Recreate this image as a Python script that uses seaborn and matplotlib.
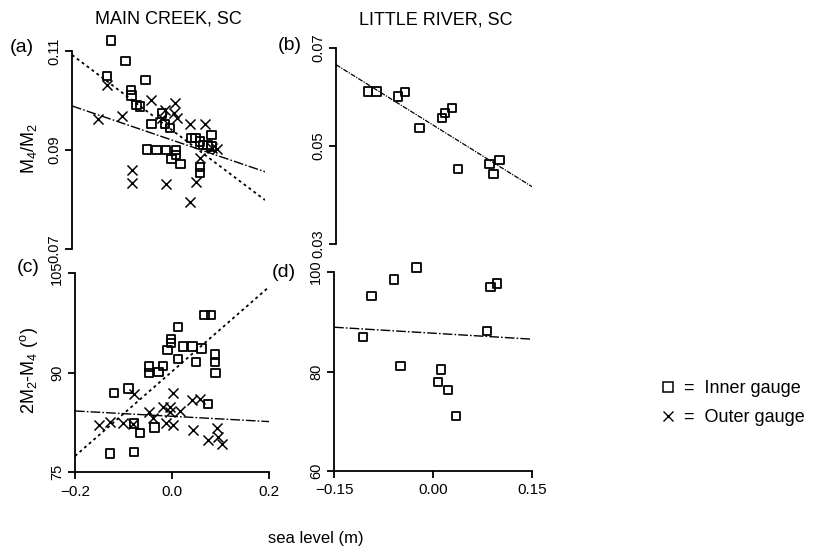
import matplotlib
matplotlib.use("Agg")
import matplotlib.pyplot as plt
from matplotlib.lines import Line2D
import numpy as np
import pandas as pd
import seaborn as sns

# ---------------------------------------------------------------------------
# Main Creek, SC : M4/M2 amplitude ratio vs. sea level
mc_inner_sl_ratio = [-0.119, -0.089, -0.128, -0.048, -0.078, -0.077, -0.066, -0.059,
                     -0.035, -0.014, -0.007, 0.003, -0.045, -0.025, -0.005, 0.015,
                     0.015, 0.006, 0.025, 0.048, 0.065, 0.089, 0.071, 0.089,
                     0.065, 0.065, 0.056, 0.081]
mc_inner_ratio = [0.1121, 0.1080, 0.1050, 0.1041, 0.1021, 0.1010, 0.0991, 0.0988,
                  0.0952, 0.0974, 0.0952, 0.0944, 0.0901, 0.0900, 0.0900, 0.0900,
                  0.0890, 0.0882, 0.0872, 0.0924, 0.0917, 0.0930, 0.0910, 0.0907,
                  0.0866, 0.0853, 0.0924, 0.0910]
mc_outer_sl_ratio = [-0.147, -0.128, -0.097, -0.075, -0.075, -0.036, -0.014, -0.007,
                     0.013, 0.017, -0.005, 0.044, 0.076, 0.100, 0.065, 0.058,
                     0.044, 0.011, 0.091]
mc_outer_ratio = [0.0962, 0.1031, 0.0969, 0.0860, 0.0833, 0.1001, 0.0964, 0.0981,
                  0.0994, 0.0964, 0.0831, 0.0953, 0.0953, 0.0903, 0.0883, 0.0836,
                  0.0794, 0.0975, 0.0905]

# Main Creek, SC : 2M2-M4 relative phase vs. sea level
mc_inner_sl_phase = [-0.128, -0.078, -0.119, -0.090, -0.078, -0.066, -0.036, -0.048,
                     -0.048, -0.028, -0.018, -0.009, -0.002, -0.002, 0.012, 0.012,
                     0.022, 0.042, 0.050, 0.061, 0.067, 0.081, 0.088, 0.090,
                     0.088, 0.074]
mc_inner_phase = [77.8, 78.0, 86.9, 87.6, 82.3, 80.9, 81.7, 90.9,
                  89.9, 90.1, 91.0, 93.4, 95.0, 94.4, 92.0, 96.9,
                  93.9, 93.9, 91.6, 93.6, 98.7, 98.7, 91.6, 89.9,
                  92.7, 85.3]
mc_outer_sl_phase = [-0.150, -0.127, -0.102, -0.078, -0.081, -0.047, -0.040, -0.019,
                     0.002, -0.005, 0.016, 0.003, -0.012, 0.043, 0.042, 0.057,
                     0.074, 0.093, 0.095, 0.104, -0.005]
mc_outer_phase = [82.1, 82.6, 82.4, 86.8, 82.3, 84.1, 83.1, 84.8,
                  86.9, 84.1, 84.2, 82.1, 82.4, 81.4, 85.9, 86.0,
                  79.8, 81.6, 80.3, 79.2, 84.8]

# Little River, SC (inner gauge only)
lr_sl_ratio = [-0.1015, -0.088, -0.055, -0.044, -0.022, 0.012, 0.017, 0.028,
               0.037, 0.085, 0.091, 0.100]
lr_ratio = [0.0611, 0.0611, 0.0601, 0.0610, 0.0537, 0.0557, 0.0567, 0.0577,
            0.0453, 0.0463, 0.0443, 0.0472]
lr_sl_phase = [-0.1056, -0.093, -0.059, -0.049, -0.025, 0.008, 0.012, 0.023,
               0.035, 0.082, 0.087, 0.097]
lr_phase = [87.0, 95.2, 98.5, 81.1, 100.9, 77.9, 80.4, 76.3,
            71.1, 88.2, 97.0, 97.7]

# Linear fits (intercept, slope)
mc_inner_ratio_fit = (0.09455, -0.0733)
mc_outer_ratio_fit = (0.09225, -0.03325)
lr_ratio_fit = (0.05415, -0.083)
mc_inner_phase_fit = (90.15, 63.75)
mc_outer_phase_fit = (83.4, -4.0)
lr_phase_fit = (87.7, -8.0)

# Axis ticks and labels
mc_xticks = [-0.2, 0.0, 0.2]
mc_xticklabels = ["\u22120.2", "0.0", "0.2"]
lr_xticks = [-0.15, 0.0, 0.15]
lr_xticklabels = ["\u22120.15", "0.00", "0.15"]
mc_ratio_ticks = [0.07, 0.09, 0.11]
mc_ratio_ticklabels = ["0.07", "0.09", "0.11"]
lr_ratio_ticks = [0.03, 0.05, 0.07]
lr_ratio_ticklabels = ["0.03", "0.05", "0.07"]
mc_phase_ticks = [75, 90, 105]
mc_phase_ticklabels = ["75", "90", "105"]
lr_phase_ticks = [60, 80, 100]
lr_phase_ticklabels = ["60", "80", "100"]

site_titles = ["MAIN CREEK, SC", "LITTLE RIVER, SC"]
panel_tags = ["(a)", "(b)", "(c)", "(d)"]
gauge_labels = ["=  Inner gauge", "=  Outer gauge"]

# ---------------------------------------------------------------------------
sns.set_style("ticks")
plt.rcParams["font.family"] = ["Liberation Sans", "DejaVu Sans"]
plt.rcParams["mathtext.fontset"] = "custom"
plt.rcParams["mathtext.rm"] = "Liberation Sans"
plt.rcParams["mathtext.it"] = "Liberation Sans:italic"
for key in ("text.color", "axes.labelcolor", "xtick.color", "ytick.color",
            "axes.edgecolor"):
    plt.rcParams[key] = "black"

W, H = 818, 548
fig = plt.figure(figsize=(W / 100, H / 100), dpi=100)


def add_axes_px(left, top, right, bottom):
    return fig.add_axes([left / W, 1 - bottom / H, (right - left) / W, (bottom - top) / H])


ax_a = add_axes_px(72, 51, 265, 249)
ax_b = add_axes_px(336, 48, 532, 244)
ax_c = add_axes_px(75, 273, 269, 472)
ax_d = add_axes_px(334, 272, 532, 471)

SQ = dict(marker="s", s=36, facecolor="none", edgecolor="black", linewidth=1.3,
          clip_on=False, zorder=3)
XM = dict(marker="x", s=52, color="black", linewidth=1.1, clip_on=False, zorder=3)

DOT = (0, (1.6, 1.8))
DASHDOT = (0, (7, 1.5, 1.2, 1.5))


def fit_line(ax, fit, xlim, ls, lw):
    xs = np.array(xlim)
    df = pd.DataFrame({"x": xs, "y": fit[0] + fit[1] * xs})
    sns.lineplot(data=df, x="x", y="y", ax=ax, color="black", linestyle=ls,
                 linewidth=lw, zorder=2)


def style_axis(ax, xlim, ylim, yticks, yticklabels, xticks=None, xticklabels=None):
    ax.set_xlim(xlim)
    ax.set_ylim(ylim)
    for side in ("top", "right"):
        ax.spines[side].set_visible(False)
    ax.spines["left"].set_linewidth(1.3)
    ax.spines["left"].set_bounds(ylim[0], ylim[1])
    ax.set_yticks(yticks)
    ax.set_yticklabels(yticklabels, rotation=90, va="center", fontsize=10.5)
    if xticks is None:
        ax.spines["bottom"].set_visible(False)
        ax.set_xticks([])
    else:
        ax.spines["bottom"].set_linewidth(1.3)
        ax.set_xticks(xticks)
        ax.set_xticklabels(xticklabels, fontsize=11)
    ax.tick_params(axis="y", direction="out", length=5, width=1.3, pad=3)
    ax.tick_params(axis="x", direction="out", length=5, width=1.3, pad=4)
    ax.set_xlabel("")
    ax.set_ylabel("")
    ax.set_facecolor("none")


mc_xlim = (-0.2, 0.2)
lr_xlim = (-0.15, 0.15)

# (a) Main Creek amplitude ratio
sns.scatterplot(x=mc_inner_sl_ratio, y=mc_inner_ratio, ax=ax_a, **SQ)
sns.scatterplot(x=mc_outer_sl_ratio, y=mc_outer_ratio, ax=ax_a, **XM)
fit_line(ax_a, mc_inner_ratio_fit, mc_xlim, DOT, 1.3)
fit_line(ax_a, mc_outer_ratio_fit, mc_xlim, DASHDOT, 1.0)
style_axis(ax_a, mc_xlim, (0.07, 0.11), mc_ratio_ticks, mc_ratio_ticklabels)

# (b) Little River amplitude ratio
sns.scatterplot(x=lr_sl_ratio, y=lr_ratio, ax=ax_b, **SQ)
fit_line(ax_b, lr_ratio_fit, lr_xlim, (0, (4, 1, 1, 1)), 0.9)
style_axis(ax_b, lr_xlim, (0.03, 0.07), lr_ratio_ticks, lr_ratio_ticklabels)

# (c) Main Creek relative phase
sns.scatterplot(x=mc_inner_sl_phase, y=mc_inner_phase, ax=ax_c, **SQ)
sns.scatterplot(x=mc_outer_sl_phase, y=mc_outer_phase, ax=ax_c, **XM)
fit_line(ax_c, mc_inner_phase_fit, mc_xlim, DOT, 1.3)
fit_line(ax_c, mc_outer_phase_fit, mc_xlim, DASHDOT, 1.0)
style_axis(ax_c, mc_xlim, (75, 105), mc_phase_ticks, mc_phase_ticklabels,
           mc_xticks, mc_xticklabels)

# (d) Little River relative phase
sns.scatterplot(x=lr_sl_phase, y=lr_phase, ax=ax_d, **SQ)
fit_line(ax_d, lr_phase_fit, lr_xlim, DASHDOT, 1.0)
style_axis(ax_d, lr_xlim, (60, 100), lr_phase_ticks, lr_phase_ticklabels,
           lr_xticks, lr_xticklabels)


def ftext(px, py, s, **kw):
    fig.text(px / W, 1 - py / H, s, ha="center", va="center", **kw)


# Site titles, panel tags, axis titles
ftext(168, 19, site_titles[0], fontsize=13)
ftext(436, 20, site_titles[1], fontsize=13)
ftext(22, 48, panel_tags[0], fontsize=14)
ftext(290, 45, panel_tags[1], fontsize=14)
ftext(28, 268, panel_tags[2], fontsize=14)
ftext(284, 273, panel_tags[3], fontsize=14)
ftext(29, 148, r"M$_4$/M$_2$", fontsize=13, rotation=90)
ftext(29, 371, r"2M$_2$-M$_4$ ($^{\rm o}$)", fontsize=13, rotation=90)
ftext(316, 538, "sea level (m)", fontsize=12)

# Gauge key
key_handles = [
    Line2D([], [], marker="s", markersize=6.5, markerfacecolor="none",
           markeredgecolor="black", markeredgewidth=1.1, linestyle="none"),
    Line2D([], [], marker="x", markersize=7, color="black",
           markeredgewidth=1.0, linestyle="none"),
]
fig.legend(key_handles, gauge_labels, loc="center left",
           bbox_to_anchor=(652 / W, 1 - 403 / H), frameon=False, fontsize=13,
           handlelength=0.8, handletextpad=0.5, labelspacing=0.65, borderpad=0)

fig.savefig("out.png", dpi=100)
